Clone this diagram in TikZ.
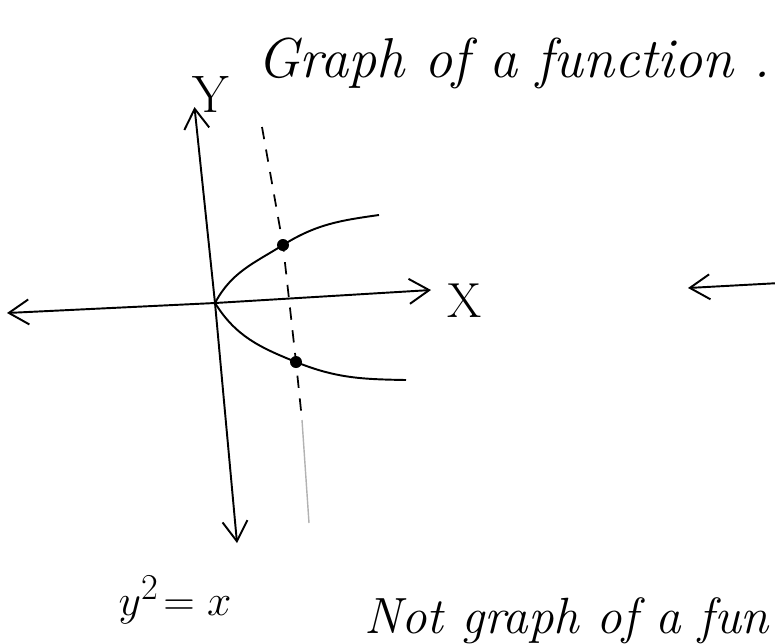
\documentclass[tikz,border=0pt]{standalone}
\usepackage{tikz}
\usetikzlibrary{arrows.meta}
\usetikzlibrary{calc, positioning}

\begin{document}
\begin{tikzpicture}[
    axis/.style={line width=1.1pt, -{Straight Barb[length=4mm, width=5mm, line width=1.1pt]}},
    curve/.style={line width=1.1pt},
    dashline/.style={line width=1pt, dash pattern=on 7pt off 6pt},
    dot/.style={circle, fill=black, inner sep=0pt, minimum size=2.4mm},
    hand/.style={inner sep=0pt, font=\fontsize{32}{38}\selectfont\itshape}
  ]
  \useasboundingbox (0,0) rectangle (15.5,-12.86);
  \clip (0,0) rectangle (15.5,-12.86);

  % Axes points
  \coordinate (O) at (4.3,-6.06);
  \coordinate (Ytop) at (3.89,-2.14);
  \coordinate (Ybot) at (4.74,-10.86);
  \coordinate (Xleft) at (0.14,-6.26);
  \coordinate (Xright) at (8.62,-5.8);

  % Parabola y^2 = x
  \node[dot] (P1) at (5.66,-4.9) {};
  \node[dot] (P2) at (5.92,-7.24) {};
  \coordinate (U) at (7.58,-4.3);
  \coordinate (L) at (8.12,-7.6);

  % Vertical line test
  \coordinate (D1) at (5.24,-2.54);
  \coordinate (D2) at (6.04,-8.4);
  \coordinate (D3) at (6.18,-10.46);

  % Arrow on the right
  \coordinate (R0) at (15.6,-5.66);
  \coordinate (R1) at (13.76,-5.76);

  % Axes
  \draw[axis] (O) -- (Ytop);
  \draw[axis] (O) -- (Ybot);
  \draw[axis] (O) -- (Xleft);
  \draw[axis] (O) -- (Xright);
  \node[hand, font=\fontsize{30}{34}\selectfont] (ylab) at (4.22,-1.88) {Y};
  \node[hand, font=\fontsize{28}{34}\selectfont] (xlab) at (9.3,-6.02) {X};

  % Branches
  \draw[curve] (O) to[out=62, in=212] (P1.center) to[out=32, in=188] (U);
  \draw[curve] (O) to[out=-58, in=158] (P2.center) to[out=-22, in=179] (L);

  % Dashed line through both points
  \draw[dashline] (D1) -- (P1.center) -- (P2.center) -- (D2);
  \draw[gray!60, line width=0.8pt] (D2) -- (D3);

  \draw[axis] (R0) -- (R1);

  % Texts
  \node[hand, anchor=base west] (title) at (5.14,-1.54) {Graph of a function .};
  \node[hand, font=\fontsize{30}{36}\selectfont] (eq) at (3.5,-12.0) {$y^{2}\!= x$};
  \node[hand, font=\fontsize{29}{34}\selectfont\itshape, anchor=base west] (nottitle) at (7.28,-12.66) {Not graph of a fun};
\end{tikzpicture}
\end{document}
